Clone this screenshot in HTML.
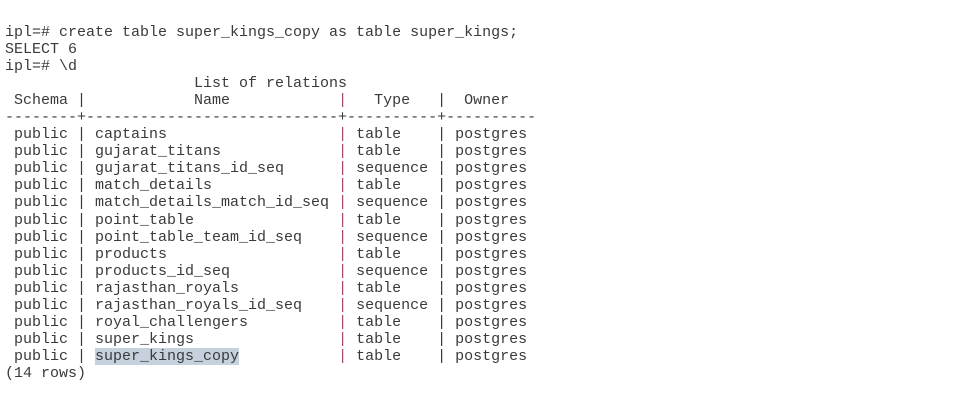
<!DOCTYPE html>
<html><head><meta charset="utf-8"><style>
html,body{margin:0;padding:0;background:#fff;width:966px;height:412px;overflow:hidden}
pre{position:absolute;left:5px;top:24px;margin:0;font-family:"Liberation Mono",monospace;font-size:15px;line-height:17.05px;color:#3a3a3a;letter-spacing:0}
.p{color:#a8456e}
.h{background:#c5d1dd}
</style></head><body><pre>ipl=# create table super_kings_copy as table super_kings;
SELECT 6
ipl=# \d
                     List of relations
 Schema |            Name            <span class="p">|</span>   Type   |  Owner
--------+----------------------------+----------+----------
 public | captains                   <span class="p">|</span> table    | postgres
 public | gujarat_titans             <span class="p">|</span> table    | postgres
 public | gujarat_titans_id_seq      <span class="p">|</span> sequence | postgres
 public | match_details              <span class="p">|</span> table    | postgres
 public | match_details_match_id_seq <span class="p">|</span> sequence | postgres
 public | point_table                <span class="p">|</span> table    | postgres
 public | point_table_team_id_seq    <span class="p">|</span> sequence | postgres
 public | products                   <span class="p">|</span> table    | postgres
 public | products_id_seq            <span class="p">|</span> sequence | postgres
 public | rajasthan_royals           <span class="p">|</span> table    | postgres
 public | rajasthan_royals_id_seq    <span class="p">|</span> sequence | postgres
 public | royal_challengers          <span class="p">|</span> table    | postgres
 public | super_kings                <span class="p">|</span> table    | postgres
 public | <span class="h">super_kings_copy</span>           <span class="p">|</span> table    | postgres
(14 rows)
</pre></body></html>
